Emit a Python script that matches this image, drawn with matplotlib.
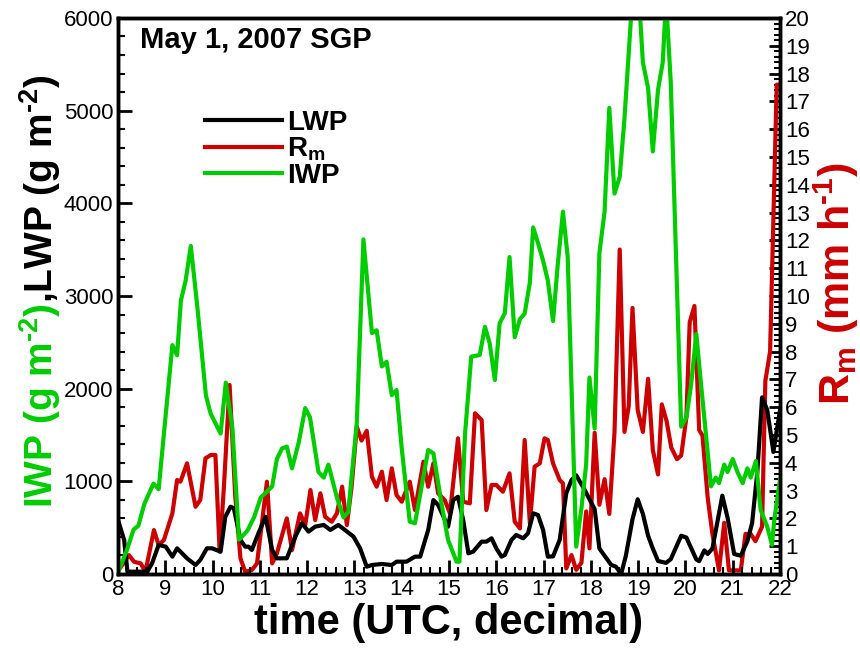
import matplotlib
matplotlib.use("Agg")
import matplotlib.pyplot as plt
from matplotlib.ticker import MultipleLocator

plt.rcParams['font.family'] = ['Liberation Sans', 'DejaVu Sans']
plt.rcParams['mathtext.fontset'] = 'custom'
plt.rcParams['mathtext.rm'] = 'Liberation Sans:bold'
plt.rcParams['mathtext.bf'] = 'Liberation Sans:bold'
plt.rcParams['mathtext.default'] = 'bf'

# IWP (g m-2)
iwp_t = [8.00, 8.17, 8.33, 8.43, 8.56, 8.75, 8.86, 8.95, 9.15, 9.25,
         9.33, 9.43, 9.54, 9.68, 9.86, 9.96, 10.17, 10.28, 10.42, 10.56,
         10.74, 10.88, 11.02, 11.26, 11.36, 11.47, 11.57, 11.68, 11.82, 11.96,
         12.06, 12.24, 12.35, 12.45, 12.63, 12.77, 12.87, 13.05, 13.19, 13.37,
         13.47, 13.58, 13.68, 13.79, 13.89, 14.00, 14.17, 14.28, 14.56, 14.67,
         14.84, 14.98, 15.16, 15.22, 15.34, 15.47, 15.65, 15.76, 15.86, 15.97,
         16.07, 16.18, 16.28, 16.39, 16.50, 16.60, 16.71, 16.78, 16.88, 16.99,
         17.09, 17.20, 17.30, 17.41, 17.51, 17.69, 17.80, 17.90, 17.97, 18.08,
         18.18, 18.29, 18.39, 18.50, 18.61, 18.71, 18.95, 19.10, 19.21, 19.31,
         19.42, 19.52, 19.59, 19.69, 19.91, 20.02, 20.12, 20.23, 20.33, 20.54,
         20.64, 20.71, 20.82, 20.89, 21.00, 21.10, 21.21, 21.31, 21.38, 21.49,
         21.59, 21.73, 21.83, 21.88, 22.00]
iwp = [20, 230, 480, 520, 760, 975, 915, 1400, 2470, 2360,
       2950, 3165, 3540, 2870, 1925, 1730, 1515, 2065, 1570, 370,
       470, 615, 825, 945, 1240, 1355, 1375, 1140, 1415, 1790,
       1690, 1100, 1040, 1180, 825, 610, 670, 1630, 3610, 2600,
       2630, 2240, 2290, 1930, 1985, 1356, 565, 547, 1338, 1302,
       763, 367, 133, 133, 1518, 2345, 2363, 2668, 2489, 2093,
       2705, 2813, 3420, 2555, 2750, 2810, 3145, 3740, 3575, 3380,
       3165, 2730, 3340, 3910, 3420, 295, 707, 1180, 2120, 1570,
       3460, 3910, 5030, 4105, 4285, 4910, 6800, 5520, 5245, 4560,
       5225, 5520, 6200, 5300, 1590, 1690, 2045, 2590, 2045, 945,
       1040, 980, 1180, 1100, 1240, 1100, 980, 1140, 1040, 1220,
       690, 510, 315, 590, 1020]

# LWP (g m-2)
lwp_t = [8.00, 8.13, 8.20, 8.62, 8.72, 8.86, 9.01, 9.15, 9.25, 9.46,
         9.64, 9.74, 9.88, 9.99, 10.17, 10.27, 10.38, 10.45, 10.59, 10.69,
         10.76, 10.83, 10.97, 11.12, 11.26, 11.36, 11.57, 11.75, 11.89, 12.03,
         12.17, 12.35, 12.49, 12.66, 12.80, 12.98, 13.12, 13.26, 13.37, 13.58,
         13.79, 13.89, 14.10, 14.28, 14.39, 14.56, 14.67, 14.77, 14.98, 15.09,
         15.19, 15.30, 15.41, 15.51, 15.69, 15.79, 15.90, 16.00, 16.11, 16.18,
         16.32, 16.42, 16.57, 16.67, 16.78, 16.88, 16.99, 17.09, 17.20, 17.34,
         17.48, 17.59, 17.69, 17.87, 17.97, 18.08, 18.18, 18.29, 18.43, 18.53,
         18.64, 18.74, 18.88, 18.99, 19.10, 19.21, 19.31, 19.42, 19.59, 19.69,
         19.91, 20.02, 20.23, 20.29, 20.40, 20.47, 20.57, 20.78, 20.89, 21.03,
         21.17, 21.31, 21.41, 21.52, 21.62, 21.73, 21.86, 22.00]
lwp = [583, 367, 25, 25, 115, 313, 295, 187, 277, 169,
       97, 151, 277, 277, 241, 618, 726, 709, 367, 295,
       295, 259, 439, 618, 259, 169, 169, 403, 547, 457,
       511, 529, 475, 529, 475, 403, 277, 79, 97, 108,
       97, 133, 133, 187, 187, 475, 798, 745, 511, 798,
       834, 583, 223, 241, 349, 349, 385, 277, 187, 205,
       367, 421, 385, 439, 655, 637, 475, 187, 190, 367,
       871, 1014, 1065, 906, 806, 700, 275, 197, 98, 79,
       0, 197, 590, 806, 648, 413, 275, 140, 120, 160,
       413, 393, 157, 138, 255, 216, 275, 845, 609, 216,
       197, 354, 550, 1100, 1906, 1769, 1317, 1769]

# Rm (mm h-1)
rm_t = [8.00, 8.23, 8.34, 8.48, 8.58, 8.76, 8.86, 8.97, 9.15, 9.25,
        9.32, 9.46, 9.64, 9.74, 9.85, 9.96, 10.06, 10.15, 10.24, 10.36,
        10.48, 10.59, 10.69, 10.83, 10.94, 11.15, 11.26, 11.36, 11.57, 11.68,
        11.85, 11.96, 12.07, 12.17, 12.28, 12.38, 12.52, 12.63, 12.74, 12.84,
        12.94, 13.05, 13.15, 13.26, 13.37, 13.47, 13.58, 13.68, 13.79, 13.89,
        14.00, 14.17, 14.28, 14.46, 14.56, 14.67, 14.77, 14.91, 15.02, 15.19,
        15.30, 15.44, 15.55, 15.69, 15.79, 15.90, 16.00, 16.14, 16.28, 16.39,
        16.50, 16.60, 16.71, 16.81, 16.92, 17.02, 17.09, 17.20, 17.34, 17.41,
        17.48, 17.59, 17.69, 17.80, 17.90, 17.97, 18.08, 18.18, 18.29, 18.39,
        18.50, 18.61, 18.71, 18.80, 18.88, 18.99, 19.10, 19.21, 19.31, 19.42,
        19.50, 19.60, 19.70, 19.82, 19.91, 20.02, 20.09, 20.19, 20.29, 20.36,
        20.47, 20.57, 20.71, 20.82, 20.92, 21.17, 21.27, 21.38, 21.48, 21.62,
        21.69, 21.79, 21.93, 22.00]
rm = [0.10, 0.68, 0.44, 0.38, 0.08, 1.58, 1.04, 1.22, 2.18, 3.38,
      3.32, 3.98, 2.42, 2.66, 4.16, 4.28, 4.28, 0.80, 3.14, 6.80,
      2.78, 0.56, 0.08, 0.14, 0.38, 3.32, 0.38, 0.74, 2.00, 0.86,
      2.18, 1.76, 3.02, 1.94, 2.90, 2.06, 1.88, 2.18, 3.14, 1.76,
      3.14, 5.30, 4.80, 5.15, 3.50, 3.14, 3.68, 2.66, 3.80, 2.84,
      2.60, 3.32, 2.30, 4.04, 3.14, 3.98, 2.90, 2.66, 2.18, 4.88,
      2.60, 2.54, 5.78, 5.54, 2.30, 3.20, 3.20, 2.96, 3.62, 1.88,
      1.64, 4.82, 1.82, 3.86, 3.98, 4.88, 4.82, 3.98, 3.38, 3.26,
      0.20, 0.68, 0.15, 0.40, 2.25, 0.92, 5.08, 2.49, 3.41, 2.16,
      5.11, 11.67, 5.11, 6.03, 9.57, 5.90, 5.11, 7.02, 4.46, 3.58,
      6.10, 5.51, 4.55, 4.13, 4.26, 5.64, 9.05, 9.64, 5.18, 4.98,
      2.75, 1.44, 0.13, 1.84, 0.13, 0.13, 1.44, 1.44, 1.18, 1.70,
      6.95, 8.00, 17.60, 17.60]

green = '#00cc00'
red = '#cc0000'

fig = plt.figure(figsize=(8.6, 6.53), dpi=100)
ax = fig.add_axes([0.1372, 0.121, 0.7698, 0.8515])
ax2 = ax.twinx()
ax.set_zorder(ax2.get_zorder() + 1)
ax.patch.set_visible(False)

l_rm, = ax2.plot(rm_t, rm, color=red, lw=3, label='R$_m$')
l_lwp, = ax.plot(lwp_t, lwp, color='black', lw=3, label='LWP')
l_iwp, = ax.plot(iwp_t, iwp, color=green, lw=3, label='IWP')

ax.set_xlim(8, 22)
ax.set_ylim(0, 6000)
ax2.set_ylim(0, 20)

ax.xaxis.set_major_locator(MultipleLocator(1))
ax.xaxis.set_minor_locator(MultipleLocator(0.2))
ax.yaxis.set_major_locator(MultipleLocator(1000))
ax.yaxis.set_minor_locator(MultipleLocator(200))
ax2.yaxis.set_major_locator(MultipleLocator(1))
ax2.yaxis.set_minor_locator(MultipleLocator(0.2))

ax.tick_params(which='major', direction='in', length=10, width=2, labelsize=16,
               top=False, right=False)
ax.tick_params(which='minor', direction='in', length=5, width=1.5,
               top=False, right=False)
ax2.tick_params(which='major', direction='in', length=8, width=2, labelsize=16,
                left=False, right=True)
ax2.tick_params(which='minor', direction='in', length=4, width=1.5,
                left=False, right=True)
for a in (ax, ax2):
    for s in a.spines.values():
        s.set_linewidth(2.5)

ax.set_xlabel('time (UTC, decimal)', fontsize=30, fontweight='bold', labelpad=2)

ax.text(0.033, 0.985, 'May 1, 2007 SGP', transform=ax.transAxes,
        fontsize=21, fontweight='bold', va='top', ha='left')

ax.legend([l_lwp, l_rm, l_iwp], ['LWP', 'R$_m$', 'IWP'],
          loc='upper left', bbox_to_anchor=(0.131, 0.835), frameon=False,
          prop={'size': 20, 'weight': 'bold'}, handlelength=2.8,
          handletextpad=0.15, labelspacing=0.0, borderpad=0, borderaxespad=0)

# left label: green IWP part, black LWP part stacked above it
t_iwp = fig.text(0.047, 0.222, 'IWP (g m$^{\u2010 2}$)', rotation=90, color=green,
                 fontsize=28, fontweight='bold', ha='center', va='bottom')
ax.annotate(',LWP (g m$^{\u2010 2}$)', xy=(0.5, 1.0), xycoords=t_iwp, rotation=90,
            color='black', fontsize=28, fontweight='bold', ha='center', va='bottom',
            annotation_clip=False)

fig.text(0.972, 0.38, 'R$_m$ (mm h$^{\u2010 1}$)', rotation=90, color=red,
         fontsize=31, fontweight='bold', ha='center', va='bottom')

fig.savefig('out.png', dpi=100)
